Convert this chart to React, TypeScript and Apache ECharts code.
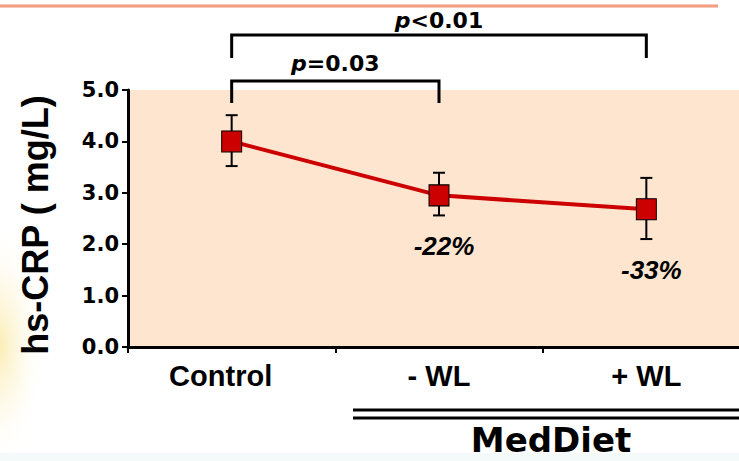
import React, { useEffect, useRef } from "react";
import * as echarts from "echarts";

const categories = ["Control", "- WL", "+ WL"];
const means = [4.0, 2.95, 2.68];
const lower = [3.52, 2.56, 2.1];
const upper = [4.51, 3.39, 3.29];
const changeLabels = ["", "-22%", "-33%"];
const yMin = 0;
const yMax = 5;
const yInterval = 1;
const bracketPairs = [
  { from: "Control", to: "+ WL", p: "<0.01" },
  { from: "Control", to: "- WL", p: "=0.03" },
];
const groupLabel = "MedDiet";
const yTitle = "hs-CRP ( mg/L)";

const ARIAL = "'Liberation Sans', Arial, sans-serif";
const DEJAVU = "'DejaVu Sans', sans-serif";

export default function App() {
  const ref = useRef<HTMLDivElement>(null);
  useEffect(() => {
    if (!ref.current) return;
    const chart = echarts.init(ref.current, null, { renderer: "svg" });
    chart.setOption({
      animation: false,
      backgroundColor: "#ffffff",
      grid: {
        left: 128,
        right: 0,
        top: 90,
        bottom: 114,
        show: true,
        backgroundColor: "#fde5cf",
        borderWidth: 0,
      },
      xAxis: {
        type: "category",
        data: categories.map((c, i) =>
          i === 0 ? { value: c, textStyle: { padding: [0, 22, 0, 0] } } : c
        ),
        boundaryGap: true,
        axisLine: { lineStyle: { color: "#000", width: 3 } },
        axisTick: { show: true, length: 6, inside: false, lineStyle: { color: "#000", width: 2 } },
        axisLabel: {
          color: "#000",
          fontFamily: ARIAL,
          fontWeight: "bold",
          fontSize: 29,
          margin: 14,
        },
        splitLine: { show: false },
      },
      yAxis: {
        type: "value",
        min: yMin,
        max: yMax,
        interval: yInterval,
        axisLine: { show: true, lineStyle: { color: "#000", width: 3 } },
        axisTick: { show: true, length: 6, lineStyle: { color: "#000", width: 2 } },
        axisLabel: {
          color: "#000",
          fontFamily: DEJAVU,
          fontWeight: "bold",
          fontSize: 21,
          margin: 9,
          formatter: (v: number) => v.toFixed(1),
        },
        splitLine: { show: false },
      },
      series: [
        {
          type: "custom",
          z: 3,
          data: categories.map((c, i) => [i, lower[i], upper[i], changeLabels[i]]),
          renderItem: (params: any, api: any) => {
            const x = api.value(0);
            const lo = api.coord([x, api.value(1)]);
            const hi = api.coord([x, api.value(2)]);
            const cap = 6;
            const st = { stroke: "#000", lineWidth: 2 };
            const children: any[] = [
              { type: "line", shape: { x1: lo[0], y1: lo[1], x2: hi[0], y2: hi[1] }, style: st },
              { type: "line", shape: { x1: lo[0] - cap, y1: lo[1], x2: lo[0] + cap, y2: lo[1] }, style: st },
              { type: "line", shape: { x1: hi[0] - cap, y1: hi[1], x2: hi[0] + cap, y2: hi[1] }, style: st },
            ];
            const lbl = changeLabels[params.dataIndex];
            if (lbl) {
              children.push({
                type: "text",
                x: lo[0] + 5,
                y: lo[1] + 31,
                style: {
                  text: lbl,
                  fontFamily: ARIAL,
                  fontWeight: "bold",
                  fontStyle: "italic",
                  fontSize: 26,
                  fill: "#000",
                  textAlign: "center",
                  textVerticalAlign: "middle",
                },
              });
            }
            return { type: "group", children };
          },
        },
        {
          type: "line",
          z: 4,
          data: means,
          symbol: "rect",
          symbolSize: [20, 21],
          lineStyle: { color: "#cc0000", width: 4 },
          itemStyle: { color: "#cc0000", borderColor: "#000", borderWidth: 1 },
        },
      ],
    });

    const xs: Record<string, number> = {};
    categories.forEach((c) => {
      xs[c] = chart.convertToPixel({ xAxisIndex: 0 }, c) as number;
    });
    const bracketStyle = [
      { top: 35, bottom: 58, text: 20 },
      { top: 81, bottom: 103, text: 63 },
    ];
    const graphics: any[] = [
      {
        type: "rect",
        silent: true,
        z: -10,
        x: 0,
        y: 345,
        scaleY: 4.5,
        shape: { x: -45, y: -27, width: 90, height: 54 },
        style: {
          fill: new echarts.graphic.RadialGradient(0.5, 0.5, 0.5, [
            { offset: 0, color: "rgba(248,222,120,0.55)" },
            { offset: 0.5, color: "rgba(250,235,170,0.25)" },
            { offset: 1, color: "rgba(255,255,255,0)" },
          ]),
        },
      },
      {
        type: "rect",
        silent: true,
        z: -10,
        shape: { x: 0, y: 453, width: 750, height: 8 },
        style: { fill: "#f4f9f9" },
      },
      {
        type: "rect",
        silent: true,
        shape: { x: 0, y: 4, width: 718, height: 4 },
        style: {
          fill: new echarts.graphic.LinearGradient(0, 0, 0, 1, [
            { offset: 0, color: "#fcdccf" },
            { offset: 0.5, color: "#ef8a6c" },
            { offset: 1, color: "#fcdccf" },
          ]),
        },
      },
      {
        type: "text",
        x: 35,
        y: 225,
        rotation: Math.PI / 2,
        style: {
          text: yTitle,
          fontFamily: ARIAL,
          fontWeight: "bold",
          fontSize: 36,
          fill: "#000",
          textAlign: "center",
          textVerticalAlign: "middle",
        },
      },
      {
        type: "line",
        shape: { x1: 353, y1: 410, x2: 750, y2: 410 },
        style: { stroke: "#000", lineWidth: 3 },
      },
      {
        type: "line",
        shape: { x1: 353, y1: 418, x2: 750, y2: 418 },
        style: { stroke: "#000", lineWidth: 3 },
      },
      {
        type: "text",
        x: 551,
        y: 440,
        style: {
          text: groupLabel,
          fontFamily: DEJAVU,
          fontWeight: "bold",
          fontSize: 34,
          fill: "#000",
          textAlign: "center",
          textVerticalAlign: "middle",
        },
      },
    ];
    bracketPairs.forEach((b, i) => {
      const s = bracketStyle[i];
      const x1 = xs[b.from];
      const x2 = xs[b.to];
      graphics.push({
        type: "polyline",
        shape: { points: [[x1, s.bottom], [x1, s.top], [x2, s.top], [x2, s.bottom]] },
        style: { stroke: "#000", lineWidth: 3, fill: null },
      });
      graphics.push({
        type: "text",
        x: (x1 + x2) / 2,
        y: s.text,
        style: {
          text: `{i|p}{n|${b.p}}`,
          textAlign: "center",
          textVerticalAlign: "middle",
          rich: {
            i: { fontFamily: DEJAVU, fontWeight: "bold", fontStyle: "italic", fontSize: 22, fill: "#000" },
            n: { fontFamily: DEJAVU, fontWeight: "bold", fontSize: 22, fill: "#000" },
          },
        },
      });
    });
    chart.setOption({ graphic: graphics });

    return () => chart.dispose();
  }, []);
  return (
    <div style={{ position: "fixed", left: 0, top: 0, width: 739, height: 461, overflow: "hidden" }}>
      <div ref={ref} style={{ width: 750, height: 461 }} />
    </div>
  );
}
